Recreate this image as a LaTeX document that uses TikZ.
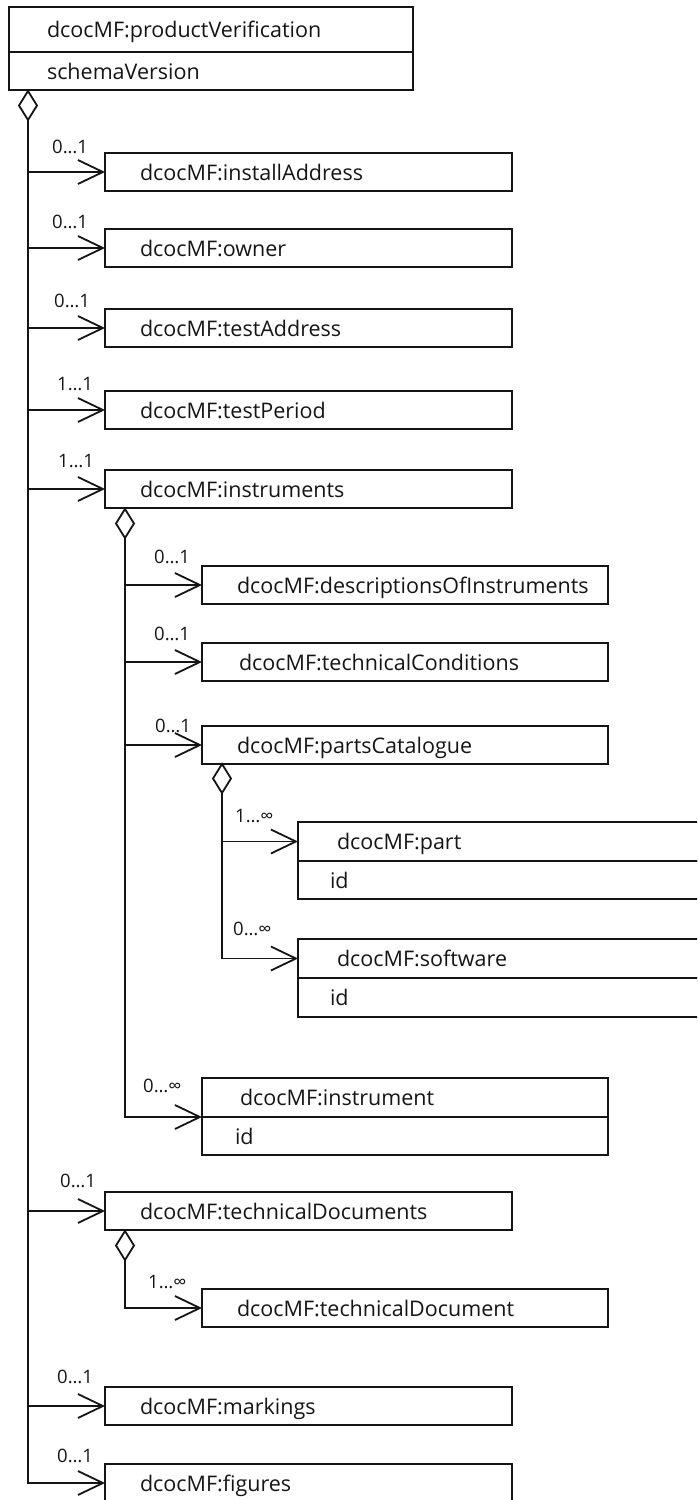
\documentclass[tikz,border=0pt]{standalone}
\usepackage{fontspec}
\setmainfont{Open Sans}
\usetikzlibrary{arrows.meta,shapes.geometric}
\definecolor{ink}{HTML}{151515}
\newcommand{\multtext}[1]{\fontsize{18.5}{21}\selectfont #1}
\begin{document}
\begin{tikzpicture}[x=1pt,y=-1pt,
  cls/.style={draw=ink, line width=1.8pt, rectangle, anchor=north west,
    inner ysep=0pt, outer sep=0pt, minimum height=38pt,
    text height=18pt, text depth=2pt, align=left,
    font=\fontsize{21.5}{24}\selectfont, text=ink},
  wA/.style={cls, inner xsep=35pt, text width=337pt},
  wB/.style={cls, inner xsep=#1, text width=406pt-2*#1},
  wC/.style={cls, inner xsep=#1, text width=500pt-2*#1},
  wT/.style={cls, inner xsep=38pt, text width=328pt},
  diam/.style={draw=ink, line width=1.8pt, shape=diamond, fill=white,
    minimum width=18pt, minimum height=29pt, inner sep=0pt, outer sep=0pt, anchor=north},
  multlab/.style={anchor=base west, text=ink, inner sep=0pt, align=left},
  assoc/.style={draw=ink, line width=1.8pt,
    -{Straight Barb[length=25pt, width=24pt, line cap=butt, line join=miter]}}
]
\path[use as bounding box] (0,0) rectangle (697,1500);
\clip (0,0) rectangle (697,1500);

% root class with its attribute compartment
\node[wT, minimum height=45pt] (pv) at (9,7) {dcocMF:productVerification};
\node[wT] (pvattr) at (9,52) {schemaVersion};
\node[diam] (d0) at (28,91) {};

% first-level children
\node[wA] (install)     at (105,153)  {dcocMF:installAddress};
\node[wA] (owner)       at (105,229)  {dcocMF:owner};
\node[wA] (testaddr)    at (105,309)  {dcocMF:testAddress};
\node[wA] (testperiod)  at (105,391)  {dcocMF:testPeriod};
\node[wA] (instruments) at (105,470)  {dcocMF:instruments};
\node[wA] (techdocs)    at (105,1192) {dcocMF:technicalDocuments};
\node[wA] (markings)    at (105,1387) {dcocMF:markings};
\node[wA] (figures)     at (105,1464) {dcocMF:figures};

% children of instruments
\node[diam] (d1) at (125,509) {};
\node[wB=35pt] (descr)    at (202,566) {dcocMF:descriptionsOfInstruments};
\node[wB=37pt] (techcond) at (202,643) {dcocMF:technicalConditions};
\node[wB=35pt] (parts)    at (202,726) {dcocMF:partsCatalogue};
\node[wB=38pt, minimum height=39pt] (instr) at (202,1078) {dcocMF:instrument};
\node[wB=33pt] (instrattr) at (202,1117) {id};

% children of partsCatalogue
\node[diam] (d2) at (222,764) {};
\node[wC=39pt, minimum height=39pt] (part) at (298,822) {dcocMF:part};
\node[wC=32pt] (partattr) at (298,861) {id};
\node[wC=39pt, minimum height=39pt] (soft) at (298,939) {dcocMF:software};
\node[wC=32pt, minimum height=39pt] (softattr) at (298,978) {id};

% child of technicalDocuments
\node[diam] (d3) at (125,1231) {};
\node[wB=35pt] (techdoc) at (202,1289) {dcocMF:technicalDocument};

% associations from the root
\draw[assoc] (d0.south) |- (figures.west);
\foreach \n in {install,owner,testaddr,testperiod,instruments,techdocs,markings}
  \draw[assoc] (d0.south |- \n.west) -- (\n.west);

% associations from instruments
\draw[assoc] (d1.south) |- (instr.south west);
\foreach \n in {descr,techcond,parts}
  \draw[assoc] (d1.south |- \n.west) -- (\n.west);

% associations from partsCatalogue
\draw[assoc] (d2.south) |- (soft.west);
\draw[assoc] (d2.south |- part.west) -- (part.west);

% association from technicalDocuments
\draw[assoc] (d3.south) |- (techdoc.west);

% multiplicities
\node[multlab] (m1)  at (52,153)  {\multtext{0…1}};
\node[multlab] (m2)  at (52,228)  {\multtext{0…1}};
\node[multlab] (m3)  at (54,307)  {\multtext{0…1}};
\node[multlab] (m4)  at (57,390)  {\multtext{1…1}};
\node[multlab] (m5)  at (58,467)  {\multtext{1…1}};
\node[multlab] (m6)  at (154,563) {\multtext{0…1}};
\node[multlab] (m7)  at (154,640) {\multtext{0…1}};
\node[multlab] (m8)  at (155,732) {\multtext{0…1}};
\node[multlab] (m9)  at (235,822) {\multtext{1…∞}};
\node[multlab] (m10) at (233,935) {\multtext{0…∞}};
\node[multlab] (m11) at (143,1092) {\multtext{0…∞}};
\node[multlab] (m12) at (60,1187) {\multtext{0…1}};
\node[multlab] (m13) at (148,1288) {\multtext{1…∞}};
\node[multlab] (m14) at (57,1383) {\multtext{0…1}};
\node[multlab] (m15) at (57,1462) {\multtext{0…1}};
\end{tikzpicture}
\end{document}
